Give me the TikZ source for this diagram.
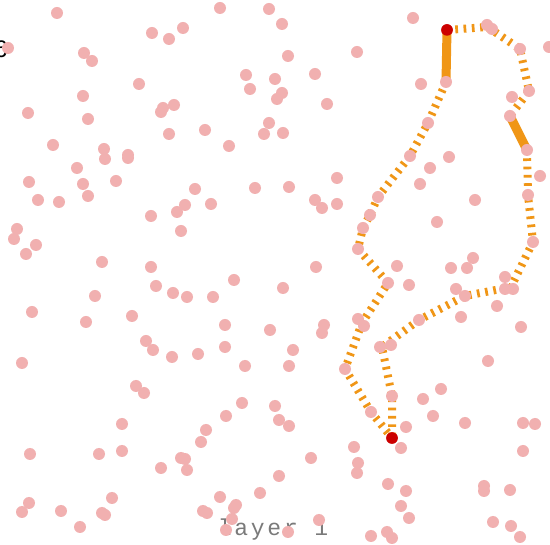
\documentclass[tikz,border=0pt]{standalone}
\usepackage{fontspec}
\newfontfamily\layerfont[LetterSpace=12]{Liberation Mono}
\newfontfamily\cornerfont{Liberation Sans}
\definecolor{dotpink}{RGB}{241,176,176}
\definecolor{routeorange}{RGB}{240,150,22}
\definecolor{endred}{RGB}{204,0,0}
\tikzset{
  dot/.style={
    fill=dotpink
  },
  enddot/.style={
    circle,
    fill=endred,
    inner sep=0pt,
    minimum size=11.5pt
  },
  route/.style={
    draw=routeorange,
    line width=8pt,
    dash pattern=on 2.7pt off 5.6pt
  },
  solidroute/.style={
    draw=routeorange,
    line width=9pt
  },
  layerlabel/.style={
    font=\layerfont\fontsize{23}{23}\selectfont,
    text=black!52,
    inner sep=0pt
  },
  cornerlabel/.style={
    font=\cornerfont\fontsize{24}{24}\selectfont,
    inner sep=0pt
  }
}

\begin{document}
\begin{tikzpicture}[x=1pt,y=-1pt]
  \clip (0,0) rectangle (550,545);
  \fill[white] (0,0) rectangle (550,545);

  \node[cornerlabel, anchor=base east] (corner) at (8,58) {6};
  \node[layerlabel, anchor=base] (layer) at (273,536) {layer 1};

  \coordinate (r1) at (487,27);
  \coordinate (r2) at (492,30);
  \coordinate (r3) at (520,49);
  \coordinate (r4) at (529,91);
  \coordinate (r5) at (510,116);
  \coordinate (r6) at (527,150);
  \coordinate (r7) at (528,195);
  \coordinate (r8) at (533,242);
  \coordinate (r9) at (511,287);
  \coordinate (r10) at (465,296);
  \coordinate (r11) at (419,320);
  \coordinate (r12) at (382,347);
  \coordinate (r13) at (392,396);
  \coordinate (l1) at (446,82);
  \coordinate (l2) at (428,123);
  \coordinate (l3) at (410,156);
  \coordinate (l4) at (378,197);
  \coordinate (l5) at (370,215);
  \coordinate (l6) at (363,228);
  \coordinate (l7) at (358,249);
  \coordinate (l8) at (388,283);
  \coordinate (l9) at (362,323);
  \coordinate (l10) at (345,369);
  \coordinate (l11) at (371,412);
  \node[enddot] (start) at (447,30) {};
  \node[enddot] (goal) at (392,438) {};

  \draw[solidroute] (start.center) -- (l1);
  \draw[solidroute] (r5) -- (r6);
  \draw[route, line join=round] (start.center) -- (r1) -- (r2) -- (r3) -- (r4) -- (r5);
  \draw[route, line join=round] (r6) -- (r7) -- (r8) -- (r9) -- (r10) -- (r11) -- (r12) -- (r13) -- (goal.center);
  \draw[route, line join=round] (l1) -- (l2) -- (l3) -- (l4) -- (l5) -- (l6) -- (l7) -- (l8) -- (l9) -- (l10) -- (l11) -- (goal.center);

  \foreach \px/\py in {
    57/13, 152/33, 169/39, 8/48, 84/53, 92/61, 139/84, 83/96, 28/113, 88/119,
    161/112, 163/108, 174/105, 169/134, 53/145, 104/149, 105/159, 128/155, 128/158, 77/168,
    29/182, 83/184, 116/181, 220/8, 269/9, 183/28, 282/24, 288/56, 246/75, 275/79,
    250/89, 282/93, 277/99, 315/74, 327/104, 205/130, 269/123, 264/134, 283/133, 229/146,
    337/178, 38/200, 59/202, 88/196, 151/216, 17/229, 14/239, 36/245, 26/254, 102/262,
    151/267, 156/286, 95/296, 32/312, 132/316, 86/322, 146/341, 153/350, 22/363, 195/189,
    255/188, 289/187, 185/205, 177/212, 211/204, 315/200, 322/208, 181/231, 316/267, 234/280,
    283/288, 173/293, 187/297, 213/297, 225/325, 270/330, 324/325, 322/333, 225/347, 198/354,
    293/350, 172/357, 245/366, 289/366, 136/386, 144/393, 122/424, 30/454, 99/454, 122/451,
    161/468, 112/498, 29/503, 22/512, 61/511, 102/513, 105/515, 80/527, 242/403, 275/406,
    226/416, 279/420, 289/426, 206/430, 201/442, 181/458, 185/459, 187/470, 311/458, 279/476,
    260/493, 220/497, 203/511, 207/513, 234/508, 236/505, 232/519, 226/530, 319/520, 288/532,
    413/18, 357/52, 487/25, 492/29, 520/49, 549/47, 421/84, 446/82, 529/91, 512/97,
    510/116, 428/123, 527/150, 410/156, 449/157, 430/168, 420/184, 540/176, 378/197, 475/200,
    528/195, 337/204, 370/215, 363/228, 437/222, 358/249, 533/242, 397/266, 451/268, 467/268,
    473/258, 388/283, 409/285, 456/289, 465/296, 505/277, 505/289, 513/289, 497/306, 461/317,
    358/319, 364/326, 419/320, 521/327, 380/347, 391/345, 345/369, 488/361, 392/396, 441/389,
    423/399, 371/412, 433/416, 465/423, 523/423, 535/424, 406/427, 354/447, 401/448, 523/451,
    358/463, 357/473, 388/484, 406/491, 484/486, 484/491, 510/490, 401/506, 409/518, 493/522,
    511/526, 520/537, 371/536, 387/532, 392/538}
    \fill[dot] (\px,\py) circle (6);

  \node[enddot] at (start) {};
  \node[enddot] at (goal) {};
\end{tikzpicture}
\end{document}
